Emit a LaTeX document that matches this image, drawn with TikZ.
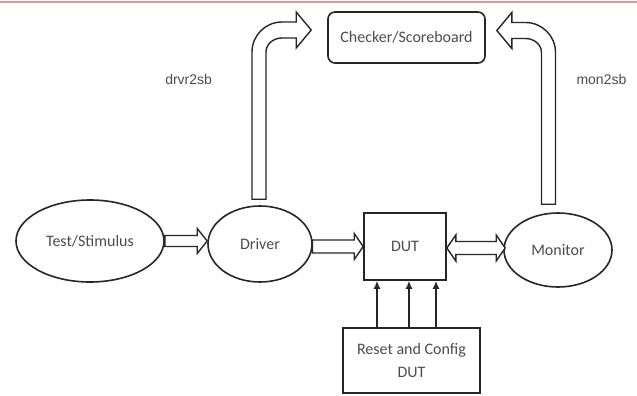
\documentclass[tikz,border=0pt]{standalone}
\usepackage{fontspec}
\setmainfont{Carlito}
\newfontfamily\lblfont{Liberation Sans}
\usepackage{xcolor}
\usepackage{tikz}
\usetikzlibrary{shapes.geometric, arrows.meta, positioning, calc}
\definecolor{rulepink}{RGB}{226,150,150}

\begin{document}
\begin{tikzpicture}[
    x=1pt, y=-1pt,
    font=\fontsize{16}{23}\selectfont,
    oval/.style={ellipse, draw=black!85, line width=1.6pt, inner sep=0pt, text=black!70},
    block/.style={rectangle, draw=black!85, line width=1.6pt, inner sep=0pt, text=black!70, align=center},
    hollow/.style={draw=black!85, line width=1.4pt, fill=white, line join=miter},
    sig/.style={draw=black!85, line width=1.8pt, -{Latex[length=8pt, width=7pt]}},
    tag/.style={font=\lblfont\fontsize{14}{16}\selectfont, text=black!70}
]
    \useasboundingbox (0,0) rectangle (637,396);
    \draw[rulepink, line width=2pt] (0,2) -- (637,2);

    \node [block, rounded corners=7pt, minimum width=157pt, minimum height=51pt] (chk) at (406.5,37.5) {Checker/Scoreboard};
    \node [oval, minimum width=148pt, minimum height=82pt] (test) at (90,241) {Test/Stimulus};
    \node [oval, minimum width=104pt, minimum height=76pt] (drv) at (260,244) {Driver};
    \node [block, minimum width=82pt, minimum height=67pt] (dut) at (405,246.5) {DUT};
    \node [oval, minimum width=108pt, minimum height=74pt] (mon) at (558,250) {Monitor};
    \node [block, minimum width=137pt, minimum height=65pt] (rst) at (411.5,360.5) {Reset and Config\\DUT};

    \coordinate (t0) at (test.east);
    \coordinate (t1) at (t0 -| drv.west);
    \draw [hollow] ($(t0)+(0,-5.5)$) -- ($(t1)+(-10,-5.5)$) -- ($(t1)+(-10,-12.5)$) -- (t1) -- ($(t1)+(-10,12.5)$) -- ($(t1)+(-10,5.5)$) -- ($(t0)+(0,5.5)$) -- cycle;

    \coordinate (a0) at ($(drv.east)+(-0.5,2.5)$);
    \coordinate (a1) at (a0 -| dut.west);
    \draw [hollow] ($(a0)+(0,-6.5)$) -- ($(a1)+(-9,-6.5)$) -- ($(a1)+(-9,-13)$) -- (a1) -- ($(a1)+(-9,13)$) -- ($(a1)+(-9,6.5)$) -- ($(a0)+(0,6.5)$) -- cycle;

    \coordinate (b0) at ($(dut.east)+(0,1.5)$);
    \coordinate (b1) at ($(b0 -| mon.west)+(2,0)$);
    \draw [hollow] (b0) -- ($(b0)+(9,-13)$) -- ($(b0)+(9,-6.5)$) -- ($(b1)+(-9,-6.5)$) -- ($(b1)+(-9,-13)$) -- (b1) -- ($(b1)+(-9,13)$) -- ($(b1)+(-9,6.5)$) -- ($(b0)+(9,6.5)$) -- ($(b0)+(9,13)$) -- cycle;

    \coordinate (d0) at ($(drv.north)+(-1,-6)$);
    \coordinate (d1) at ($(chk.west)+(-16,-7.5)$);
    \coordinate (dc) at (d0 |- d1);
    \draw [hollow] ($(d0)+(-7,0)$) -- node[tag, pos=0.81, left=36pt] (l1) {drvr2sb} ($(dc)+(-7,22)$) .. controls ($(dc)+(-7,5.4)$) and ($(dc)+(6.4,-8)$) .. ($(dc)+(23,-8)$) -- ($(d1)+(-15,-8)$) -- ($(d1)+(-15,-18)$) -- (d1) -- ($(d1)+(-15,18)$) -- ($(d1)+(-15,8)$) -- ($(dc)+(23,8)$) .. controls ($(dc)+(14.2,8)$) and ($(dc)+(7,14.3)$) .. ($(dc)+(7,22)$) -- ($(d0)+(7,0)$) -- cycle;

    \coordinate (m0) at ($(mon.north)+(-9.5,-8)$);
    \coordinate (m1) at ($(chk.east)+(11,-7)$);
    \coordinate (mc) at (m0 |- m1);
    \draw [hollow] ($(m0)+(7,0)$) -- node[tag, pos=0.82, right=17pt] (l2) {mon2sb} ($(mc)+(7,22)$) .. controls ($(mc)+(7,5.4)$) and ($(mc)+(-6.4,-8)$) .. ($(mc)+(-23,-8)$) -- ($(m1)+(15,-8)$) -- ($(m1)+(15,-18)$) -- (m1) -- ($(m1)+(15,18)$) -- ($(m1)+(15,8)$) -- ($(mc)+(-23,8)$) .. controls ($(mc)+(-14.2,8)$) and ($(mc)+(-7,14.3)$) .. ($(mc)+(-7,22)$) -- ($(m0)+(-7,0)$) -- cycle;

    \foreach \dx in {-34.5,-2.5,24.5}
        \draw [sig] ($(rst.north)+(\dx,0)$) coordinate (r) -- (r |- dut.south);
\end{tikzpicture}
\end{document}
